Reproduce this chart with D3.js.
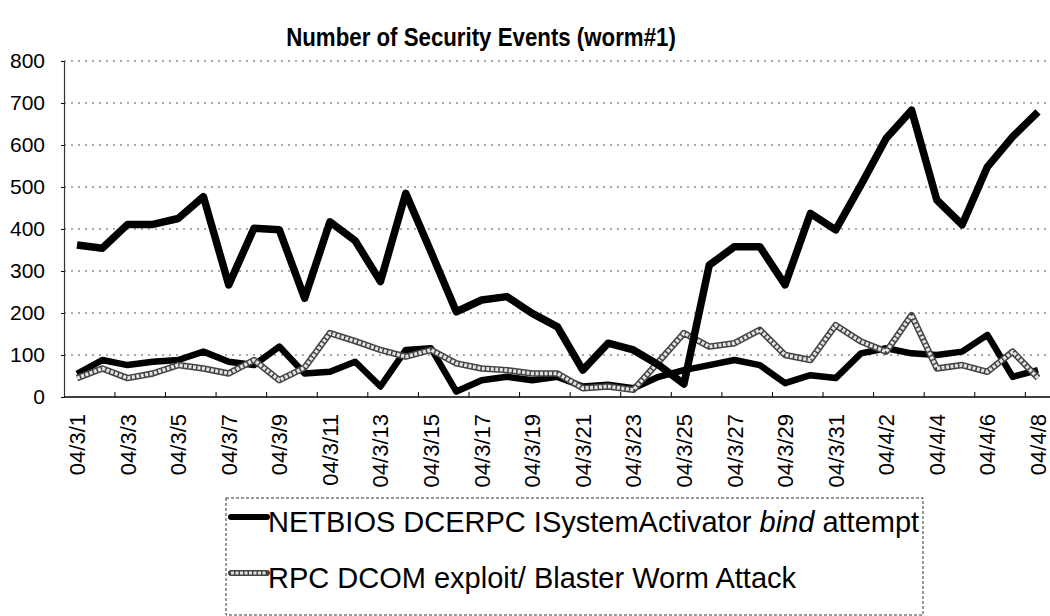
<!DOCTYPE html>
<html>
<head>
<meta charset="utf-8">
<script src="https://cdn.jsdelivr.net/npm/d3@7"></script>
<style>
  html, body { margin: 0; padding: 0; background: #fff; }
  svg { display: block; font-family: "Liberation Sans", Arial, sans-serif; }
</style>
</head>
<body>
<div id="chart"></div>
<script>
// dates 04/3/1 .. 04/4/8
const dates = [];
for (let d = 1; d <= 31; d++) dates.push(`04/3/${d}`);
for (let d = 1; d <= 8; d++) dates.push(`04/4/${d}`);

const netbios = [362, 354, 411, 411, 425, 477, 267, 402, 398, 235, 417, 372, 275, 485, 345, 203,
  231, 239, 199, 167, 64, 128, 112, 76, 31, 314, 358, 358, 267, 437, 398, 505, 616, 683, 469,
  410, 548, 620, 679];
const blaster = [45, 68, 45, 56, 76, 68, 56, 88, 40, 70, 152, 133, 112, 96, 112, 80, 68, 64, 56,
  56, 21, 25, 17, 84, 152, 120, 128, 160, 100, 88, 171, 132, 108, 195, 68, 76, 60, 108, 45];
const other = [55, 88, 76, 84, 88, 108, 84, 76, 120, 56, 60, 84, 25, 112, 116, 13, 40, 48, 40,
  48, 25, 29, 21, 48, 64, 76, 88, 76, 33, 52, 45, 104, 116, 104, 100, 108, 148, 48, 64];

const yTicks = [0, 100, 200, 300, 400, 500, 600, 700, 800];
const legendNames = ["NETBIOS DCERPC ISystemActivator bind attempt", "RPC DCOM exploit/ Blaster Worm Attack"];

const width = 1050, height = 616;
const margin = {top: 61, right: 0, bottom: 219, left: 64};

const svg = d3.select("#chart").append("svg")
    .attr("width", width)
    .attr("height", height);

const x = d3.scalePoint()
    .domain(dates)
    .range([77, 1038]);
const step = x.step();

const y = d3.scaleLinear()
    .domain([0, 800])
    .range([397, 61]);

// title (condensed bold look)
svg.append("text")
    .attr("transform", "translate(481,46) scale(0.84,1)")
    .attr("text-anchor", "middle")
    .style("font-size", "26.5px")
    .style("font-weight", "bold")
    .text("Number of Security Events (worm#1)");

// gridlines
svg.append("g")
    .selectAll("line")
    .data(yTicks.filter(d => d > 0))
    .join("line")
    .attr("x1", margin.left)
    .attr("x2", width)
    .attr("y1", d => y(d))
    .attr("y2", d => y(d))
    .attr("stroke", "#555")
    .attr("stroke-width", 1)
    .attr("stroke-dasharray", "2,5");

// y axis
const yAxis = svg.append("g")
    .attr("transform", `translate(${margin.left},0)`)
    .call(d3.axisLeft(y).tickValues(yTicks).tickSize(3).tickPadding(16));
yAxis.select(".domain").attr("stroke", "#333").attr("stroke-width", 1.2);
yAxis.selectAll("text").style("font-size", "21px").attr("fill", "#000");

// x axis line + ticks every 2 categories at boundaries
svg.append("line")
    .attr("x1", margin.left).attr("x2", width)
    .attr("y1", y(0)).attr("y2", y(0))
    .attr("stroke", "#000").attr("stroke-width", 1.5);

svg.append("g")
    .selectAll("line")
    .data(dates.filter((d, i) => i % 2 === 1 && i < dates.length - 1))
    .join("line")
    .attr("x1", d => x(d) + step / 2)
    .attr("x2", d => x(d) + step / 2)
    .attr("y1", y(0) - 5)
    .attr("y2", y(0))
    .attr("stroke", "#000");

// x labels
svg.append("g")
    .selectAll("text")
    .data(dates.filter((d, i) => i % 2 === 0))
    .join("text")
    .attr("transform", d => `translate(${x(d) + 8},${y(0) + 17}) rotate(-90)`)
    .attr("text-anchor", "end")
    .style("font-size", "22px")
    .text(d => d);

const line = d3.line()
    .x((d, i) => x(dates[i]))
    .y(d => y(d));

// lines
svg.append("path")
    .datum(other)
    .attr("d", line)
    .attr("fill", "none")
    .attr("stroke", "#000")
    .attr("stroke-width", 6.5)
    .attr("stroke-linejoin", "round");

svg.append("path")
    .datum(blaster)
    .attr("d", line)
    .attr("fill", "none")
    .attr("stroke", "#444")
    .attr("stroke-width", 6.5)
    .attr("stroke-linejoin", "round");
svg.append("path")
    .datum(blaster)
    .attr("d", line)
    .attr("fill", "none")
    .attr("stroke", "#e4e4e4")
    .attr("stroke-width", 3.5)
    .attr("stroke-dasharray", "3,1.5")
    .attr("stroke-linejoin", "round");

svg.append("path")
    .datum(netbios)
    .attr("d", line)
    .attr("fill", "none")
    .attr("stroke", "#000")
    .attr("stroke-width", 7.5)
    .attr("stroke-linejoin", "round");

// legend
const legend = svg.append("g");
legend.append("rect")
    .attr("x", 226).attr("y", 498)
    .attr("width", 697).attr("height", 117)
    .attr("fill", "none")
    .attr("stroke", "#333")
    .attr("stroke-dasharray", "3,2");

const items = legend.selectAll("g.item")
    .data(legendNames)
    .join("g")
    .classed("item", true)
    .attr("transform", (d, i) => `translate(231,${517 + i * 56})`);

items.append("line")
    .attr("x1", 0).attr("x2", 36)
    .attr("stroke", (d, i) => i === 0 ? "#000" : "#444")
    .attr("stroke-width", 6)
    .attr("stroke-linecap", "round");
items.filter((d, i) => i === 1).append("line")
    .attr("x1", 0).attr("x2", 36)
    .attr("stroke", "#e4e4e4")
    .attr("stroke-width", 3)
    .attr("stroke-dasharray", "3,1.5");

items.append("text")
    .attr("x", 37)
    .attr("y", 15)
    .style("font-size", "29px")
    .each(function (d) {
        const t = d3.select(this);
        if (d.includes(" bind ")) {
            const parts = d.split(" bind ");
            t.append("tspan").text(parts[0] + " ");
            t.append("tspan").style("font-style", "italic").text("bind");
            t.append("tspan").text(" " + parts[1]);
        } else {
            t.text(d);
        }
    });
</script>
</body>
</html>
